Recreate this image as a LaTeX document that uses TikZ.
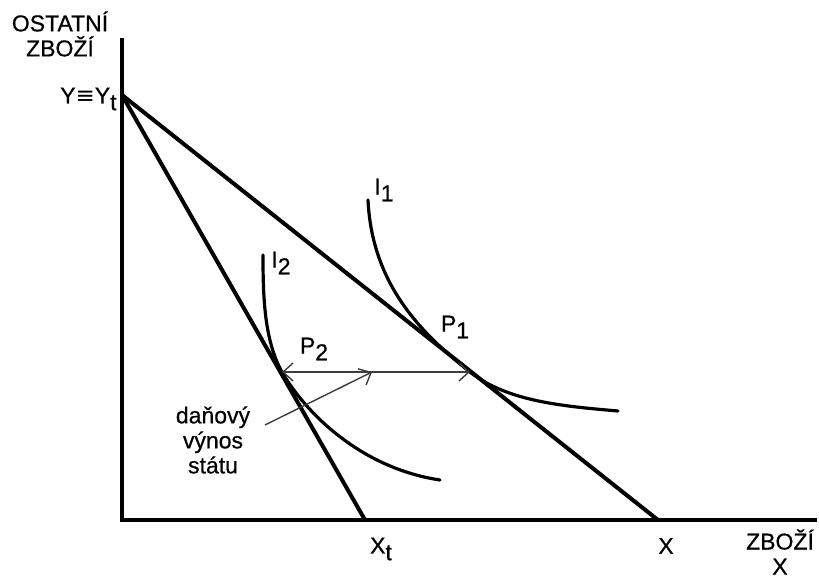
\documentclass[tikz,border=0pt]{standalone}
\usepackage{fontspec}
\setmainfont{Liberation Sans}
\newfontfamily\symfont{DejaVu Sans}
\usetikzlibrary{arrows.meta, positioning, calc}
\definecolor{plotInk}{RGB}{0,0,0}
\definecolor{plotThin}{RGB}{60,60,60}
\newcommand{\lowsub}[1]{\raisebox{-0.55ex}{#1}}
\tikzset{
  % axes and budget lines
  axis/.style={draw=plotInk, line width=1.6pt},
  budget/.style={draw=plotInk, line width=2pt, line cap=round},
  % indifference curves
  indiff/.style={draw=plotInk, line width=1.6pt, line cap=round},
  % thin arrows with open barbs
  thinflow/.style={draw=plotThin, line width=0.7pt,
                   -{Straight Barb[length=5pt,width=9pt]}},
  bithin/.style={draw=plotThin, line width=0.7pt,
                 {Straight Barb[length=5pt,width=9pt]}-{Straight Barb[length=5pt,width=9pt]}},
  % labels
  tag/.style={font=\fontsize{11.5}{12.5}\selectfont\addfontfeature{FakeBold=0.6},
              text=plotInk, inner sep=0.5pt},
}
\begin{document}
\begin{tikzpicture}[x=0.5pt, y=-0.5pt]
\useasboundingbox (0,0) rectangle (819,577);

% =============================== axes ======================================
\coordinate (origin) at (122,520);
\coordinate (ytop)   at (122,38);
\coordinate (xend)   at (817,520);
\draw[axis] (ytop) -- (origin) -- (xend);

\node[tag, align=center] (ylab) at (60,34) {OSTATNÍ\\ZBOŽÍ};
\node[tag, align=center] (xlab) at (780,552) {ZBOŽÍ\\X};

% ============================ budget lines =================================
\coordinate (Y)  at (122,95);
\coordinate (X)  at (658,520);
\coordinate (Xt) at (365,520);
\draw[budget] (Y) -- (X);
\draw[budget] (Y) -- (Xt);

\node[tag, anchor=east] (ynode) at (118,99) {Y{\symfont ≡}Y\lowsub{t}};
\node[tag] (xnode)  at (666,546) {X};
\node[tag] (xtnode) at (381,549) {X\lowsub{t}};

% ========================= indifference curves =============================
\coordinate (P1) at (470,372);
\coordinate (P2) at (282,372);

\draw[indiff] (368,200) .. controls (372,285) and (422,334) .. (P1)
              .. controls (507,401) and (560,406) .. (618,411);
\draw[indiff] (263,255) .. controls (263,295) and (264,340) .. (P2)
              .. controls (305,412) and (360,468) .. (440,480);

\node[tag] (i1) at (384,190) {I\lowsub{1}};
\node[tag] (i2) at (281,263) {I\lowsub{2}};
\node[tag] (p1) at (455,327) {P\lowsub{1}};
\node[tag] (p2) at (314,349) {P\lowsub{2}};

% ============================== tax gap ====================================
\draw[bithin] (P2) -- (P1);

\node[tag, align=center] (tax) at (213,440) {daňový\\výnos\\státu};
\coordinate (taxfoot) at (265,425);
\coordinate (taxhead) at (372,372);
\draw[thinflow] (taxfoot) -- (taxhead);

\end{tikzpicture}
\end{document}
